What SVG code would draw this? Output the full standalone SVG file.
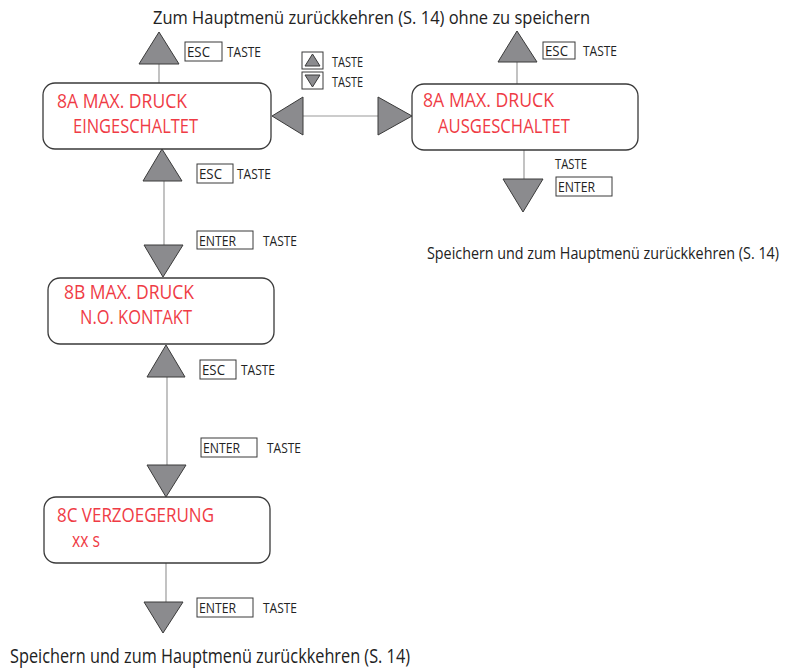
<svg xmlns="http://www.w3.org/2000/svg" width="788" height="668" viewBox="0 0 788 668">
<style>
text{font-family:"Open Sans","Liberation Sans",sans-serif}
.box{fill:#fff;stroke:#3a3a3a;stroke-width:1.3}
.red{fill:#ef3b45;font-size:19.5px}
.tri{fill:#8b8b8e;stroke:#3a3a3a;stroke-width:1}
.ln{stroke:#9a9a9a;stroke-width:1.2;fill:none}
.key{fill:#fff;stroke:#3a3a3a;stroke-width:1}
.sm{fill:#222;font-size:14px}
.cap{fill:#222;font-size:18.5px}
</style>
<rect width="788" height="668" fill="#fff"/>
<g id="connectors">
<line class="ln" x1="159" y1="64" x2="159" y2="83"/>
<line class="ln" x1="517" y1="62" x2="517" y2="84"/>
<line class="ln" x1="303" y1="116" x2="378" y2="116"/>
<line class="ln" x1="524" y1="150" x2="524" y2="180"/>
<line class="ln" x1="164" y1="181" x2="164" y2="245"/>
<line class="ln" x1="167" y1="377" x2="167" y2="465"/>
<line class="ln" x1="166" y1="563" x2="166" y2="602"/>
<polygon class="tri" points="159,32 179,64 139,64"/>
<polygon class="tri" points="517,31 537,62 498,62"/>
<polygon class="tri" points="272,116 303,97 303,135"/>
<polygon class="tri" points="412,116 378,97 378,135"/>
<polygon class="tri" points="523,212 503,179 543,179"/>
<polygon class="tri" points="162,149 182,181 143,181"/>
<polygon class="tri" points="163,277 144,245 183,245"/>
<polygon class="tri" points="166,345 185,377 147,377"/>
<polygon class="tri" points="166,497 147,465 186,465"/>
<polygon class="tri" points="163,633 144,602 183,602"/>
</g>
<g id="labels">
<text class="cap" x="153" y="24" textLength="437" lengthAdjust="spacingAndGlyphs">Zum Hauptmenü zurückkehren (S. 14) ohne zu speichern</text>
<text class="cap" x="427" y="259" textLength="352" lengthAdjust="spacingAndGlyphs" style="font-size:16px">Speichern und zum Hauptmenü zurückkehren (S. 14)</text>
<text class="cap" x="10" y="663" textLength="400" lengthAdjust="spacingAndGlyphs" style="font-size:20px">Speichern und zum Hauptmenü zurückkehren (S. 14)</text>
</g>
<g id="key-esc-1">
<rect class="key" x="185" y="42" width="37" height="19"/>
<text class="sm" x="187" y="57" textLength="23" lengthAdjust="spacingAndGlyphs">ESC</text>
<text class="sm" x="227" y="57" textLength="34" lengthAdjust="spacingAndGlyphs">TASTE</text>
</g>
<g id="key-esc-2">
<rect class="key" x="543" y="42" width="32" height="17"/>
<text class="sm" x="545" y="56" textLength="23" lengthAdjust="spacingAndGlyphs">ESC</text>
<text class="sm" x="583" y="56" textLength="34" lengthAdjust="spacingAndGlyphs">TASTE</text>
</g>
<g id="key-updown">
<rect class="key" x="302" y="52" width="21" height="17"/>
<polygon class="tri" points="312.5,54 320,66 305,66"/>
<text class="sm" x="332" y="67" textLength="31" lengthAdjust="spacingAndGlyphs">TASTE</text>
<rect class="key" x="302" y="72" width="21" height="17"/>
<polygon class="tri" points="312.5,87 305,75 320,75"/>
<text class="sm" x="332" y="87" textLength="31" lengthAdjust="spacingAndGlyphs">TASTE</text>
</g>
<g id="key-enter-right">
<text class="sm" x="555" y="169" textLength="32" lengthAdjust="spacingAndGlyphs">TASTE</text>
<rect class="key" x="556" y="177" width="56" height="19"/>
<text class="sm" x="558" y="192" textLength="37" lengthAdjust="spacingAndGlyphs">ENTER</text>
</g>
<g id="key-esc-3">
<rect class="key" x="197" y="164" width="36" height="19"/>
<text class="sm" x="199" y="179" textLength="23" lengthAdjust="spacingAndGlyphs">ESC</text>
<text class="sm" x="237" y="179" textLength="34" lengthAdjust="spacingAndGlyphs">TASTE</text>
</g>
<g id="key-enter-1">
<rect class="key" x="197" y="231" width="56" height="18"/>
<text class="sm" x="199" y="246" textLength="37" lengthAdjust="spacingAndGlyphs">ENTER</text>
<text class="sm" x="263" y="246" textLength="34" lengthAdjust="spacingAndGlyphs">TASTE</text>
</g>
<g id="key-esc-4">
<rect class="key" x="200" y="360" width="36" height="19"/>
<text class="sm" x="202" y="375" textLength="23" lengthAdjust="spacingAndGlyphs">ESC</text>
<text class="sm" x="241" y="375" textLength="34" lengthAdjust="spacingAndGlyphs">TASTE</text>
</g>
<g id="key-enter-2">
<rect class="key" x="201" y="438" width="56" height="19"/>
<text class="sm" x="203" y="453" textLength="37" lengthAdjust="spacingAndGlyphs">ENTER</text>
<text class="sm" x="267" y="453" textLength="34" lengthAdjust="spacingAndGlyphs">TASTE</text>
</g>
<g id="key-enter-3">
<rect class="key" x="197" y="598" width="56" height="19"/>
<text class="sm" x="199" y="613" textLength="37" lengthAdjust="spacingAndGlyphs">ENTER</text>
<text class="sm" x="263" y="613" textLength="34" lengthAdjust="spacingAndGlyphs">TASTE</text>
</g>
<g id="node-8a-ein">
<rect class="box" x="43" y="83" width="228" height="66" rx="12"/>
<text class="red" x="57" y="108" textLength="130" lengthAdjust="spacingAndGlyphs">8A MAX. DRUCK</text>
<text class="red" x="73" y="133" textLength="125" lengthAdjust="spacingAndGlyphs">EINGESCHALTET</text>
</g>
<g id="node-8a-aus">
<rect class="box" x="412" y="84" width="226" height="66" rx="12"/>
<text class="red" x="423" y="107" textLength="131" lengthAdjust="spacingAndGlyphs">8A MAX. DRUCK</text>
<text class="red" x="438" y="133" textLength="132" lengthAdjust="spacingAndGlyphs">AUSGESCHALTET</text>
</g>
<g id="node-8b">
<rect class="box" x="48" y="278" width="226" height="66" rx="12"/>
<text class="red" x="64" y="299" textLength="130" lengthAdjust="spacingAndGlyphs">8B MAX. DRUCK</text>
<text class="red" x="80" y="324" textLength="112" lengthAdjust="spacingAndGlyphs">N.O. KONTAKT</text>
</g>
<g id="node-8c">
<rect class="box" x="44" y="497" width="226" height="66" rx="12"/>
<text class="red" x="57" y="522" textLength="157" lengthAdjust="spacingAndGlyphs">8C VERZOEGERUNG</text>
<text class="red" x="72" y="547" textLength="28" lengthAdjust="spacingAndGlyphs">xx s</text>
</g>
</svg>
